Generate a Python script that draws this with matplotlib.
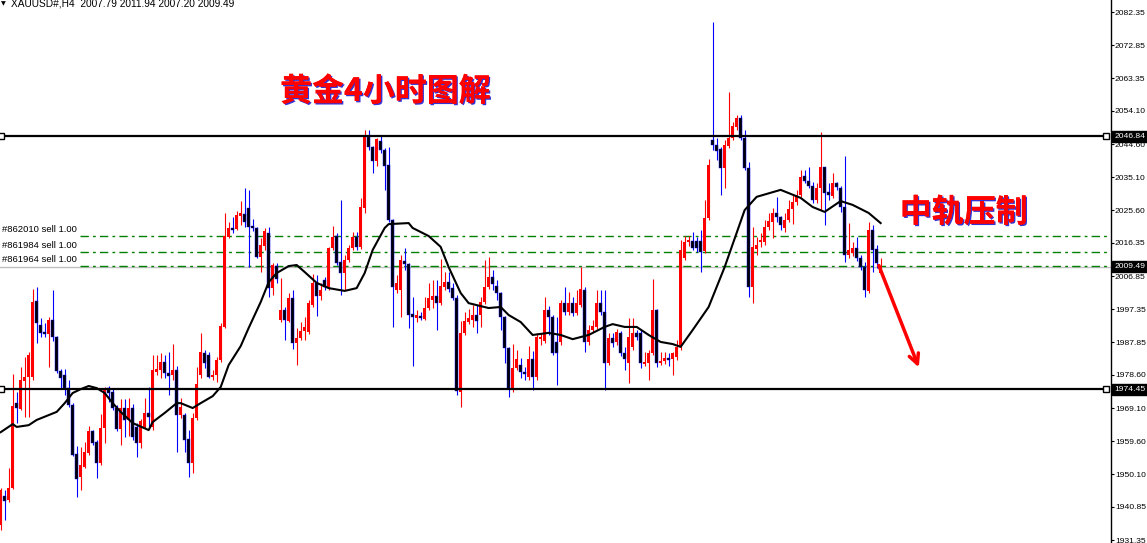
import matplotlib.pyplot as plt
import matplotlib.transforms as mtransforms
from matplotlib import patheffects as pe

# XAUUSD H4 bars, oldest first
opens = [1935.6, 1943.9, 1942.8, 1946.2, 1970.5, 1968.8, 1976.8, 1978.0, 1978.0, 1999.7,
         1992.9, 1990.8, 1990.3, 1994.3, 1989.4, 1979.7, 1978.5, 1974.8, 1970.0, 1956.0,
         1949.4, 1952.2, 1956.2, 1962.5, 1959.4, 1953.4, 1963.4, 1974.8, 1973.7, 1969.1,
         1963.1, 1969.1, 1965.7, 1969.1, 1963.7, 1959.1, 1963.7, 1967.7, 1963.7, 1979.4,
         1980.0, 1982.3, 1979.1, 1978.5, 1980.0, 1967.1, 1967.1, 1960.2, 1953.4, 1966.3,
         1978.5, 1984.8, 1984.3, 1978.0, 1978.5, 1982.8, 1992.3, 2018.0, 2020.6, 2020.3,
         2024.0, 2024.6, 2026.3, 2021.2, 2020.6, 2012.3, 2015.4, 2019.2, 2003.4, 2009.7,
         1994.3, 1997.1, 1994.0, 2000.6, 1987.7, 1989.1, 1991.1, 1990.8, 1998.6, 2004.9,
         2001.1, 2005.7, 2003.4, 2014.9, 2018.3, 2010.9, 2007.7, 2011.4, 2014.9, 2018.0,
         2015.2, 2026.3, 2046.6, 2043.8, 2039.8, 2045.5, 2042.9, 2038.6, 2022.9, 2002.9,
         2002.9, 2011.2, 2010.3, 1996.0, 1994.9, 1995.4, 1994.6, 1997.7, 2000.0, 2001.1,
         1999.1, 2003.7, 2005.1, 2003.4, 2000.6, 1973.7, 1990.6, 1993.7, 1994.3, 1995.7,
         1995.7, 1999.4, 2003.7, 2006.6, 2004.0, 2002.0, 1995.1, 1986.3, 1974.8, 1980.6,
         1981.4, 1979.4, 1978.0, 1983.1, 1978.0, 1988.8, 1988.3, 1997.1, 1995.1, 1988.0,
         1988.0, 1999.1, 1996.6, 1999.1, 1996.3, 1998.6, 2002.9, 1988.0, 1991.4, 1992.3,
         1999.1, 1996.6, 1982.0, 1989.1, 1988.0, 1990.6, 1984.8, 1982.0, 1986.6, 1990.6,
         1990.6, 1981.8, 1982.0, 1984.8, 1997.1, 1982.0, 1982.6, 1983.4, 1983.1, 1983.7,
         1986.6, 2012.0, 2016.6, 2016.9, 2016.9, 2016.9, 2014.0, 2023.5, 2045.8, 2044.3,
         2043.2, 2037.8, 2044.0, 2046.3, 2049.5, 2052.1, 2046.3, 2037.8, 2003.7, 2014.6,
         2016.6, 2016.6, 2020.9, 2022.3, 2024.9, 2023.7, 2020.6, 2022.9, 2026.0, 2028.0,
         2030.0, 2035.5, 2034.0, 2032.6, 2028.6, 2032.0, 2038.0, 2030.9, 2029.7, 2033.5,
         2032.0, 2026.6, 2012.9, 2013.4, 2014.9, 2012.0, 2009.4, 2002.6, 2020.0, 2014.6,
         2007.79]
highs = [1946.2, 1945.7, 1952.0, 1978.8, 1973.7, 1980.8, 1983.7, 1985.1, 2003.1, 2003.7,
         1994.9, 1993.4, 1995.1, 2002.9, 1989.7, 1980.3, 1980.3, 1977.1, 1970.5, 1958.2,
         1958.0, 1959.4, 1964.0, 1962.8, 1960.0, 1967.4, 1975.1, 1975.4, 1974.8, 1970.0,
         1971.7, 1971.7, 1972.0, 1970.3, 1964.8, 1966.0, 1972.0, 1975.1, 1984.3, 1984.3,
         1984.8, 1984.3, 1985.1, 1987.4, 1981.1, 1972.0, 1967.7, 1962.8, 1967.7, 1980.8,
         1990.6, 1985.7, 1985.1, 1980.0, 1983.7, 1993.4, 2024.9, 2022.3, 2023.7, 2025.5,
         2028.3, 2032.0, 2031.5, 2023.2, 2020.9, 2017.7, 2020.6, 2020.9, 2010.6, 2010.6,
         2006.3, 1998.0, 2002.0, 2002.9, 1992.0, 1993.7, 1995.1, 2000.0, 2007.4, 2007.2,
         2004.9, 2006.6, 2015.2, 2021.2, 2019.2, 2028.6, 2012.9, 2015.7, 2019.4, 2019.4,
         2029.2, 2048.6, 2048.6, 2044.0, 2046.3, 2047.2, 2043.5, 2043.8, 2023.2, 2007.2,
         2012.9, 2014.9, 2010.6, 2000.9, 1997.1, 1996.6, 2000.9, 2004.9, 2005.7, 2005.7,
         2011.7, 2008.0, 2008.0, 2004.9, 2001.4, 1994.0, 1996.6, 1997.4, 1998.6, 1998.6,
         2000.9, 2011.4, 2012.3, 2008.6, 2005.7, 2002.3, 1995.4, 1986.6, 1987.4, 1985.7,
         1983.4, 1980.8, 1986.8, 1985.4, 1990.6, 1990.6, 2000.9, 1998.3, 1995.7, 1995.1,
         2000.0, 2003.7, 2002.3, 2000.9, 2002.9, 2009.4, 2003.7, 1992.9, 1994.3, 2002.9,
         2002.9, 2002.9, 1990.6, 1990.6, 1991.7, 1991.1, 1986.6, 1994.9, 1994.9, 1991.4,
         1991.4, 1985.1, 1985.7, 2006.0, 1997.4, 1985.1, 1985.1, 1984.8, 1985.0, 1988.6,
         2017.2, 2018.3, 2018.3, 2019.4, 2018.0, 2020.0, 2028.6, 2040.3, 2079.5, 2046.3,
         2043.8, 2045.8, 2059.5, 2050.9, 2052.9, 2052.9, 2048.6, 2039.5, 2020.9, 2018.0,
         2019.2, 2022.9, 2024.9, 2026.3, 2029.5, 2024.0, 2024.9, 2028.6, 2030.3, 2031.5,
         2037.2, 2037.2, 2038.0, 2033.7, 2033.5, 2048.0, 2038.0, 2033.5, 2036.3, 2033.7,
         2032.6, 2041.2, 2022.0, 2016.6, 2018.0, 2012.9, 2010.9, 2022.3, 2021.5, 2015.7,
         2011.94]
lows = [1934.2, 1937.1, 1942.2, 1945.9, 1964.8, 1968.5, 1966.5, 1966.5, 1977.1, 1987.7,
        1989.4, 1989.4, 1980.8, 1988.3, 1979.1, 1974.8, 1972.8, 1969.4, 1955.4, 1943.7,
        1945.7, 1952.0, 1955.7, 1958.5, 1949.1, 1952.8, 1959.1, 1970.8, 1968.5, 1962.5,
        1958.5, 1960.8, 1961.1, 1960.0, 1955.1, 1957.7, 1963.4, 1963.7, 1962.8, 1978.5,
        1977.7, 1977.7, 1972.8, 1977.1, 1956.5, 1966.3, 1956.5, 1949.4, 1950.5, 1965.7,
        1977.7, 1980.6, 1977.7, 1977.1, 1976.5, 1982.3, 1992.0, 2017.7, 2019.2, 2020.0,
        2021.5, 2020.9, 2009.4, 2019.7, 2012.0, 2008.0, 2014.3, 2000.9, 2001.4, 2004.9,
        1993.7, 1988.6, 1993.7, 1986.0, 1981.4, 1988.6, 1988.6, 1990.3, 1998.0, 1995.4,
        2000.0, 2002.9, 2002.9, 2014.3, 2010.0, 2001.4, 2002.9, 2010.9, 2014.3, 2014.3,
        2014.6, 2024.9, 2042.9, 2036.3, 2038.3, 2042.0, 2031.5, 2022.3, 1992.3, 2002.0,
        1995.1, 2008.6, 1992.0, 1981.1, 1993.7, 1994.3, 1994.3, 1997.1, 1997.7, 1991.4,
        1998.6, 2002.9, 2002.3, 2000.0, 1972.8, 1969.4, 1990.0, 1993.1, 1992.3, 1990.6,
        1992.3, 1998.9, 2003.1, 2002.9, 2000.0, 1991.4, 1982.0, 1972.3, 1973.7, 1980.0,
        1977.7, 1977.1, 1977.1, 1974.3, 1977.1, 1987.1, 1987.7, 1990.0, 1984.3, 1975.7,
        1987.1, 1995.7, 1995.7, 1995.4, 1995.7, 1998.0, 1985.1, 1987.1, 1990.8, 1991.7,
        1995.7, 1974.3, 1981.4, 1986.6, 1987.1, 1984.0, 1980.0, 1976.3, 1985.7, 1988.6,
        1980.6, 1981.1, 1977.1, 1984.3, 1980.8, 1981.4, 1981.7, 1981.1, 1978.5, 1982.8,
        1985.7, 2011.4, 2015.4, 2014.3, 2013.7, 2008.0, 2013.4, 2022.9, 2042.9, 2040.0,
        2030.0, 2032.0, 2043.5, 2045.8, 2048.6, 2045.8, 2037.2, 2000.9, 1999.1, 2012.9,
        2015.2, 2015.7, 2020.0, 2017.7, 2022.3, 2020.0, 2019.4, 2022.3, 2021.7, 2027.2,
        2029.5, 2033.5, 2032.0, 2027.7, 2027.7, 2025.7, 2021.5, 2028.6, 2029.2, 2031.5,
        2025.2, 2010.9, 2012.0, 2012.6, 2011.2, 2008.6, 2000.9, 2002.0, 2008.0, 2009.2,
        2007.20]
closes = [1945.7, 1942.5, 1946.2, 1969.7, 1969.1, 1977.1, 1978.0, 1984.3, 1999.4, 1993.4,
          1990.6, 1990.3, 1994.3, 1989.4, 1979.7, 1977.7, 1974.8, 1970.0, 1955.7, 1948.8,
          1952.8, 1956.5, 1962.5, 1959.1, 1953.4, 1963.4, 1974.8, 1973.4, 1969.1, 1963.1,
          1969.1, 1965.7, 1969.1, 1960.8, 1959.1, 1965.4, 1967.7, 1966.5, 1980.0, 1980.3,
          1982.3, 1979.1, 1978.3, 1980.0, 1967.1, 1969.4, 1960.0, 1953.4, 1966.3, 1976.0,
          1985.1, 1982.0, 1978.0, 1978.5, 1982.8, 1992.6, 2018.3, 2020.6, 2020.0, 2024.3,
          2024.9, 2022.3, 2020.9, 2020.6, 2012.3, 2015.7, 2019.7, 2003.4, 2010.0, 2006.0,
          1997.1, 1994.3, 2000.6, 1987.7, 1989.1, 1991.1, 1992.3, 1999.1, 2004.9, 2001.1,
          2002.9, 2003.7, 2014.9, 2018.0, 2010.6, 2007.7, 2011.4, 2014.9, 2018.0, 2015.2,
          2026.6, 2046.6, 2043.8, 2039.8, 2046.0, 2042.9, 2038.3, 2022.9, 2003.7, 2004.9,
          2011.4, 2010.3, 1995.7, 1995.1, 1995.7, 1994.9, 1997.7, 2000.6, 2001.1, 1999.1,
          2004.0, 2005.1, 2003.1, 2000.6, 1974.0, 1990.6, 1994.0, 1994.9, 1995.7, 1994.0,
          1999.4, 2003.7, 2006.6, 2004.6, 2002.0, 1995.1, 1986.3, 1974.8, 1980.6, 1983.1,
          1979.4, 1978.8, 1983.1, 1978.0, 1989.4, 1989.4, 1997.1, 1995.1, 1984.8, 1984.8,
          1999.1, 1996.6, 1999.1, 1996.3, 1999.1, 2003.1, 1988.0, 1991.4, 1992.6, 1999.1,
          1996.6, 1982.0, 1989.1, 1987.7, 1990.8, 1984.8, 1983.1, 1989.4, 1990.6, 1989.4,
          1982.0, 1982.1, 1984.8, 1997.1, 1982.0, 1982.6, 1983.4, 1982.8, 1984.8, 1986.6,
          2014.3, 2016.6, 2017.2, 2014.9, 2014.9, 2013.7, 2023.5, 2038.6, 2044.3, 2042.6,
          2037.8, 2044.3, 2046.3, 2049.8, 2052.1, 2046.3, 2037.8, 2003.7, 2015.2, 2015.7,
          2017.2, 2020.9, 2022.6, 2024.9, 2023.7, 2021.5, 2022.9, 2026.0, 2028.0, 2030.0,
          2035.2, 2034.0, 2032.6, 2028.6, 2032.0, 2038.0, 2030.6, 2030.0, 2033.5, 2032.3,
          2026.6, 2012.9, 2014.3, 2014.9, 2012.0, 2009.4, 2002.9, 2020.0, 2014.3, 2010.6,
          2009.49]

# moving average (middle band) read at selected bars
ma_idx = [0, 3, 4, 7, 9, 14, 16, 18, 20, 22, 24, 26, 28, 30, 33, 37, 38, 41, 44, 45,
          48, 50, 53, 55, 57, 60, 62, 65, 67, 69, 72, 74, 76, 79, 82, 86, 89, 91, 93, 96,
          97, 102, 103, 107, 110, 112, 115, 117, 122, 125, 127, 130, 133, 137, 140, 143, 147, 151, 153, 156,
          159, 162, 165, 168, 170, 173, 177, 181, 186, 189, 195, 200, 203, 206, 210, 213, 217, 220]
ma_val = [1962.2, 1964.5, 1963.7, 1964.2, 1965.7, 1968.0, 1970.5, 1973.4, 1974.5, 1975.4,
          1974.8, 1973.4, 1970.5, 1968.0, 1964.8, 1962.8, 1965.1, 1967.7, 1970.5, 1970.5,
          1969.1, 1970.5, 1972.5, 1975.1, 1981.4, 1986.8, 1992.0, 1999.4, 2005.1, 2007.7,
          2009.7, 2010.0, 2008.0, 2004.9, 2003.4, 2002.6, 2003.4, 2007.7, 2014.3, 2020.6,
          2021.7, 2022.0, 2020.6, 2018.3, 2015.2, 2009.4, 2002.0, 1999.1, 1997.7, 1998.0,
          1995.7, 1993.7, 1990.0, 1990.6, 1990.0, 1988.8, 1990.0, 1992.3, 1993.1, 1992.3,
          1992.3, 1990.0, 1988.0, 1987.4, 1986.6, 1991.4, 1998.0, 2009.4, 2025.7, 2029.5,
          2031.5, 2029.2, 2026.6, 2025.2, 2028.3, 2027.2, 2024.9, 2022.0]

axis_levels = [2082.35, 2072.85, 2063.35, 2054.10, 2044.60, 2035.10, 2025.60, 2016.35,
               2006.85, 1997.35, 1987.85, 1978.60, 1969.10, 1959.60, 1950.10, 1940.85, 1931.35]
resistance = 2046.84
support = 1974.45
last_price = 2009.49
order_labels = ["#862010 sell 1.00", "#861984 sell 1.00", "#861964 sell 1.00"]
order_prices = [2018.3, 2013.7, 2009.7]
header = "XAUUSD#,H4  2007.79 2011.94 2007.20 2009.49"
arrow_from = (219.3, 2010.6)
arrow_to = (229.8, 1980.0)

BULL = '#ff0000'
BEAR_WICK = '#0000ff'
GREEN = '#008000'

plt.rcParams['font.family'] = ['Liberation Sans', 'DejaVu Sans']

W, H = 1147, 543
fig = plt.figure(figsize=(W / 100, H / 100), dpi=100)
fig.patch.set_facecolor('white')
ax = fig.add_axes([0, 0, 1111 / W, 1])
ax.set_xlim(-0.175, 277.6)
ax.set_ylim(1930.5, 2085.8)

# current price and pending orders (behind the bars)
ax.axhline(last_price, color='#c0c0c0', lw=1, zorder=1)
for lbl, p in zip(order_labels, order_prices):
    ax.plot([19.8, 277.6], [p, p], color=GREEN, lw=1, dashes=(6, 3, 2, 3), zorder=1)
    ax.text(0.3, p + 0.7, lbl, fontsize=6.8, ha='left', va='bottom', color='black', zorder=5)

# candlesticks
for i in range(len(opens)):
    o, h, l, c = opens[i], highs[i], lows[i], closes[i]
    bull = c >= o
    ax.vlines(i, l, h, color=BULL if bull else BEAR_WICK, lw=0.8, zorder=2)
    lo = min(o, c)
    ht = max(abs(c - o), 0.35)
    if bull:
        ax.bar(i, ht, bottom=lo, width=0.8, color=BULL, lw=0, zorder=3)
    else:
        ax.bar(i, ht, bottom=lo, width=0.8, facecolor='black', edgecolor=BEAR_WICK,
               lw=0.3, zorder=3)

# middle band
ax.plot(ma_idx, ma_val, color='black', lw=1.5, zorder=4)

# support / resistance lines with end markers
for lvl in (resistance, support):
    ax.plot([-0.175, 276.3], [lvl, lvl], color='black', lw=1.6, zorder=4)
    ax.plot([0.2, 276.3], [lvl, lvl], ls='none', marker='s', ms=4, mfc='white',
            mec='black', mew=1, zorder=5)

# annotations
shadow = [pe.withSimplePatchShadow(offset=(1, -1), shadow_rgbFace='#0000cc', alpha=0.8),
          pe.Normal()]
ax.text(96.2, 2059.5, "黄金4小时图解", fontsize=23, fontweight='bold', color='#ff0000',
        ha='center', va='center', family=['Noto Sans CJK SC', 'DejaVu Sans'],
        path_effects=shadow, zorder=6)
ax.text(240.8, 2024.9, "中轨压制", fontsize=23, fontweight='bold', color='#ff0000',
        ha='center', va='center', family=['Noto Sans CJK SC', 'DejaVu Sans'],
        path_effects=shadow, zorder=6)
ax.annotate('', xy=arrow_to, xytext=arrow_from,
            arrowprops=dict(arrowstyle='->,head_length=0.7,head_width=0.35',
                            color='#ff0000', lw=2.5), zorder=6)

# header line
fig.text(1 / W, 1 - 4 / H, "\u25bc", fontsize=4.5, ha='left', va='center',
         family=['DejaVu Sans'])
fig.text(11 / W, 1 - 4 / H, header, fontsize=7.3, ha='left', va='center')

# right price scale
for s in ('top', 'left', 'bottom'):
    ax.spines[s].set_visible(False)
ax.spines['right'].set_linewidth(1)
ax.spines['right'].set_color('black')
ax.set_xticks([])
ax.set_yticks(axis_levels)
ax.set_yticklabels([f"{v:.2f}" for v in axis_levels])
ax.tick_params(axis='y', left=False, right=True, labelleft=False, labelright=True,
               length=2, width=0.8, pad=0.8, labelsize=6.1, colors='black')

trans = mtransforms.blended_transform_factory(ax.transAxes, ax.transData)
for lvl in (resistance, last_price, support):
    ax.annotate(f"{lvl:.2f}", xy=(1.0, lvl), xycoords=trans, xytext=(2.4, 0),
                textcoords='offset points', ha='left', va='center', color='white',
                fontsize=6.1, annotation_clip=False, zorder=10,
                bbox=dict(boxstyle='square,pad=0.25', fc='black', ec='black'))

fig.savefig('out.png', dpi=100, facecolor='white')
